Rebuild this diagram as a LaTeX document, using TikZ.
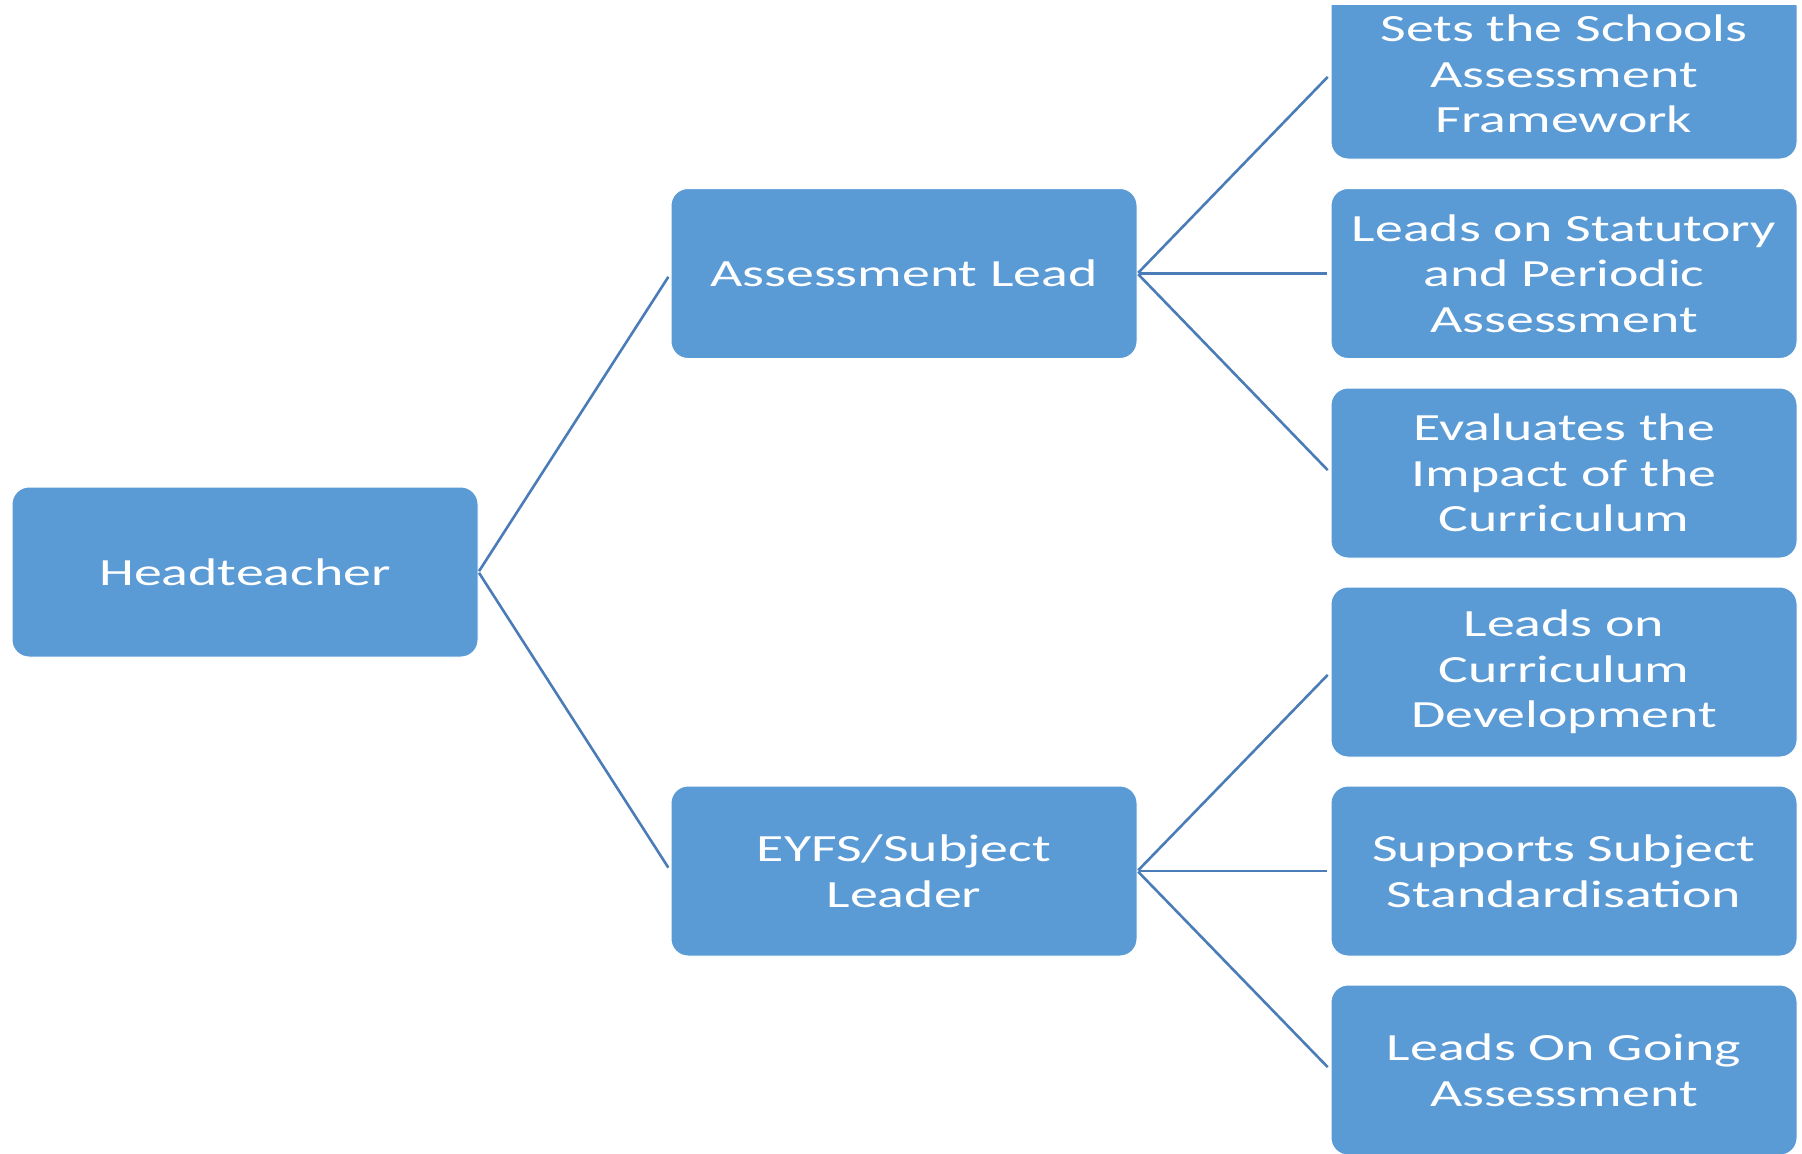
\documentclass[tikz,border=0pt]{standalone}
\usepackage{fontspec}
\setmainfont{Carlito}[FakeStretch=1.45]
\definecolor{boxblue}{HTML}{5B9BD5}
\definecolor{lineblue}{HTML}{4A7DB8}
\begin{document}
\begin{tikzpicture}[x=0.5pt,y=-0.5pt,
  box/.style={fill=boxblue, draw=white, line width=0.5pt, rounded corners=8.5pt,
    minimum width=233pt, minimum height=85pt, text=white, align=center,
    text width=232pt, inner sep=0pt, font=\fontsize{19.25pt}{22.85pt}\selectfont},
  link/.style={draw=lineblue, line width=1.3pt, shorten <=0.5pt, shorten >=2pt}]
\clip (0,0) rectangle (1802,1153);
\fill[white] (0,0) rectangle (1802,1153);
\node[box] (head) at (245,572) {Headteacher};
\node[box] (al) at (904,273.5) {Assessment Lead};
\node[box] (ey) at (904,871) {EYFS/Subject\\Leader};
\node[box] (r1) at (1564,74) {Sets the Schools\\Assessment\\Framework};
\node[box] (r2) at (1564,273.5) {Leads on Statutory\\and Periodic\\Assessment};
\node[box] (r3) at (1564,473) {Evaluates the\\Impact of the\\Curriculum};
\node[box] (r4) at (1564,672) {Leads on\\Curriculum\\Development};
\node[box] (r5) at (1564,871) {Supports Subject\\Standardisation};
\node[box] (r6) at (1564,1070) {Leads On Going\\Assessment};
\draw[link] (head.east) -- (al.west);
\draw[link] (head.east) -- (ey.west);
\foreach \t in {r1,r2,r3} \draw[link] (al.east) -- (\t.west);
\foreach \t in {r4,r5,r6} \draw[link] (ey.east) -- (\t.west);
\fill[white] (0,0) rectangle (1802,5);
\end{tikzpicture}
\end{document}
